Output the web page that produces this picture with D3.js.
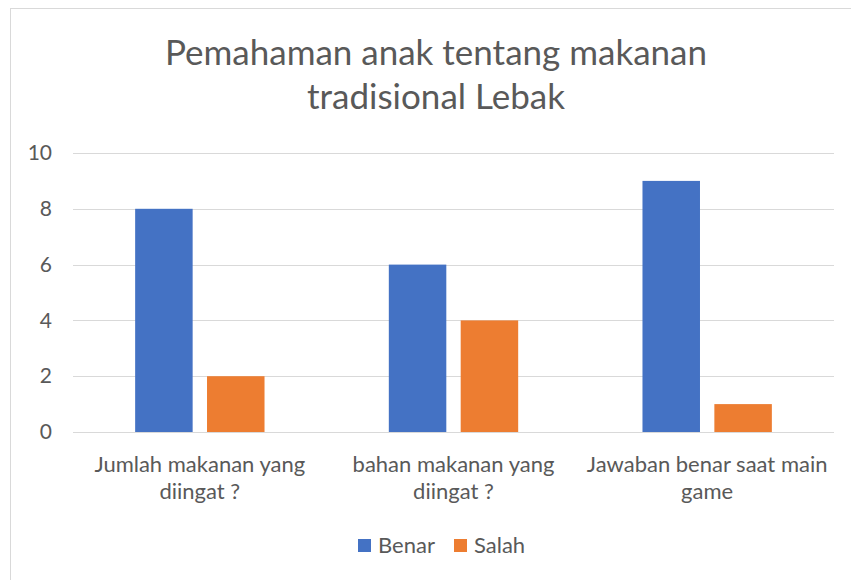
<!DOCTYPE html>
<html>
<head>
<meta charset="utf-8">
<script src="https://cdn.jsdelivr.net/npm/d3@7"></script>
<style>
  body { margin: 0; background: #fff; overflow: hidden; }
  text { font-family: Lato, "Noto Sans", sans-serif; }
</style>
</head>
<body>
<div id="chart"></div>
<script>
// data
var categories = [["Jumlah makanan yang", "diingat ?"], ["bahan makanan yang", "diingat ?"], ["Jawaban benar saat main", "game"]];
var seriesNames = ["Benar", "Salah"];
var benar = [8, 6, 9];
var salah = [2, 4, 1];
var yTicks = [0, 2, 4, 6, 8, 10];
var colours = ["#4472C4", "#ED7D31"];

var width = 851, height = 580;
var margin = {top: 153, right: 17, bottom: 148, left: 73};
var widthG = width - margin.left - margin.right;
var heightG = height - margin.top - margin.bottom;

var svg = d3.select("#chart").append("svg")
  .attr("width", width)
  .attr("height", height);

// outer frame (right and bottom edges fall outside the picture)
svg.append("rect")
  .attr("x", 10.5).attr("y", 8.5)
  .attr("width", width + 20).attr("height", height + 20)
  .attr("fill", "#fff")
  .attr("stroke", "#d9d9d9");

// title
svg.append("text")
  .attr("text-anchor", "middle")
  .style("font-size", "35px")
  .style("fill", "#595959")
  .selectAll("tspan")
  .data(["Pemahaman anak tentang makanan", "tradisional Lebak"])
  .enter().append("tspan")
  .attr("x", 436)
  .attr("y", function(d, i) { return 65 + i * 44; })
  .text(function(d) { return d; });

var g = svg.append("g")
  .attr("transform", "translate(" + margin.left + "," + margin.top + ")");

var x0 = d3.scaleBand()
  .domain(d3.range(categories.length))
  .range([0, widthG])
  .paddingInner(0.49)
  .paddingOuter(0.245);

var x1 = d3.scaleBand()
  .domain(seriesNames)
  .range([0, x0.bandwidth()])
  .paddingInner(0.2);

var y = d3.scaleLinear()
  .domain([0, 10])
  .range([heightG, 0]);

// gridlines
g.append("g")
  .selectAll("line")
  .data(yTicks)
  .enter().append("line")
  .attr("x1", 0).attr("x2", widthG)
  .attr("y1", function(d) { return Math.round(y(d)) + 0.5; })
  .attr("y2", function(d) { return Math.round(y(d)) + 0.5; })
  .attr("stroke", "#d9d9d9")
  .attr("stroke-width", 1);

// y axis labels
var yAxis = d3.axisLeft(y).tickValues(yTicks).tickSize(0).tickPadding(21);
var gy = g.append("g").call(yAxis);
gy.select(".domain").remove();
gy.selectAll("text")
  .style("font-family", "Lato, 'Noto Sans', sans-serif")
  .style("font-size", "21px")
  .style("fill", "#595959");

// bars
var groups = g.selectAll(".grp")
  .data(categories.map(function(c, i) { return {i: i, values: [benar[i], salah[i]]}; }))
  .enter().append("g")
  .attr("transform", function(d) { return "translate(" + x0(d.i) + ",0)"; });

groups.selectAll("rect")
  .data(function(d) { return d.values.map(function(v, j) { return {name: seriesNames[j], value: v, j: j}; }); })
  .enter().append("rect")
  .attr("x", function(d) { return x1(d.name); })
  .attr("y", function(d) { return y(d.value); })
  .attr("width", x1.bandwidth())
  .attr("height", function(d) { return heightG - y(d.value); })
  .attr("fill", function(d) { return colours[d.j]; });

// x category labels
var xc = d3.scaleBand().domain(d3.range(categories.length)).range([0, widthG]);
g.append("g").selectAll("text")
  .data(categories)
  .enter().append("text")
  .attr("text-anchor", "middle")
  .style("font-size", "22px")
  .style("fill", "#595959")
  .each(function(d, i) {
    var t = d3.select(this);
    d.forEach(function(line, k) {
      t.append("tspan")
        .attr("x", xc(i) + xc.bandwidth() / 2)
        .attr("y", heightG + 40 + k * 27)
        .text(line);
    });
  });

// legend
var legend = svg.append("g").attr("transform", "translate(358,539)");
var lx = [0, 96];
seriesNames.forEach(function(name, i) {
  legend.append("rect")
    .attr("x", lx[i]).attr("y", 0)
    .attr("width", 13).attr("height", 13)
    .attr("fill", colours[i]);
  legend.append("text")
    .attr("x", lx[i] + 20).attr("y", 14)
    .style("font-size", "22px")
    .style("fill", "#595959")
    .text(name);
});
</script>
</body>
</html>
